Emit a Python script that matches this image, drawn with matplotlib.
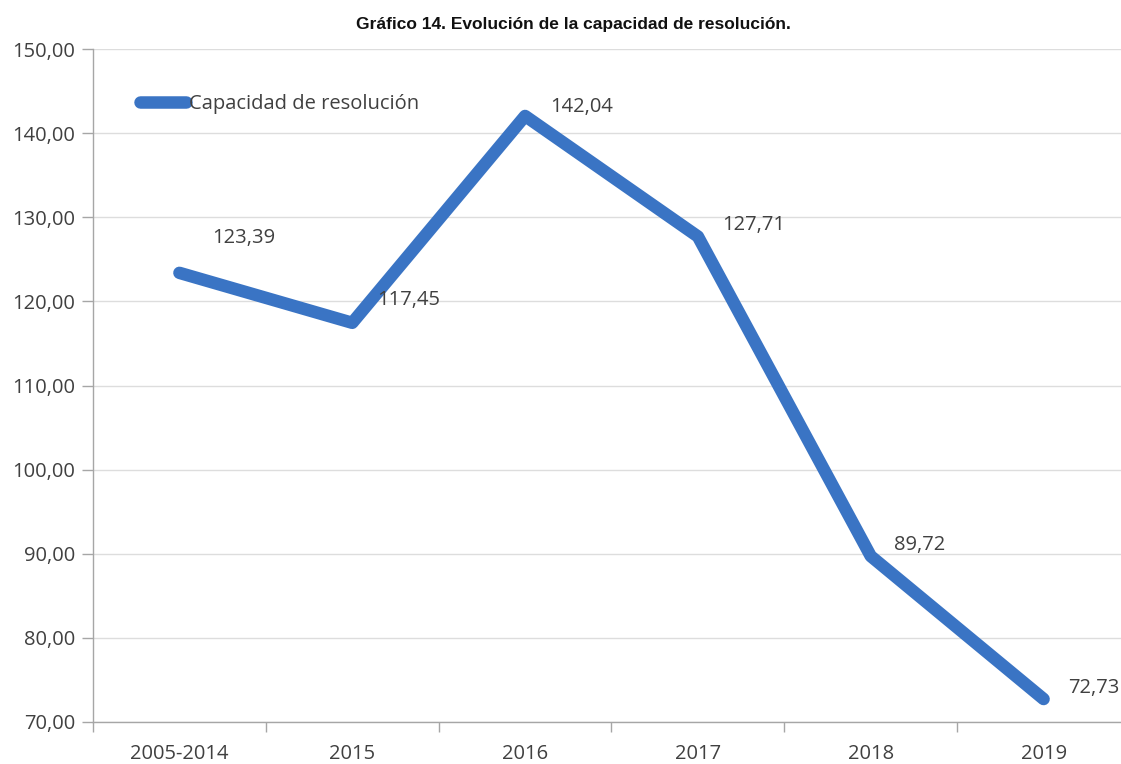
import matplotlib
matplotlib.use("Agg")
import matplotlib.pyplot as plt

categories = ["2005-2014", "2015", "2016", "2017", "2018", "2019"]
values = [123.39, 117.45, 142.04, 127.71, 89.72, 72.73]
labels = ["123,39", "117,45", "142,04", "127,71", "89,72", "72,73"]
yticks = [70, 80, 90, 100, 110, 120, 130, 140, 150]
ytick_labels = ["70,00", "80,00", "90,00", "100,00", "110,00", "120,00", "130,00", "140,00", "150,00"]
series_name = "Capacidad de resolución"
title = "Gráfico 14. Evolución de la capacidad de resolución."

# label offsets in pixels (dx, dy)
label_offsets = [(33, 35), (25, 23), (25, 9), (24, 12), (23, 11), (25, 11)]

W, H = 1121, 764
fig = plt.figure(figsize=(W / 100, H / 100), dpi=100)
left_px, right_px, top_px, bot_px = 93, 1130, 49, 722
ax = fig.add_axes([left_px / W, 1 - bot_px / H, (right_px - left_px) / W, (bot_px - top_px) / H])

color = "#3A74C4"
fs = 14.5
x = list(range(len(categories)))
ax.plot(x, values, color=color, lw=9, solid_capstyle="round", solid_joinstyle="round",
        label=series_name, zorder=3)

ax.set_xlim(-0.5, len(categories) - 0.5)
ax.set_ylim(70, 150)
ax.set_yticks(yticks)
ax.set_yticklabels(ytick_labels)
ax.set_xticks(x)
ax.set_xticklabels(categories)
ax.set_xticks([i - 0.5 for i in range(len(categories) + 1)], minor=True)

font = "Open Sans"
for t in ax.get_yticklabels() + ax.get_xticklabels():
    t.set_fontfamily(font)
    t.set_fontsize(fs)
    t.set_color("#404040")

ax.grid(axis="y", color="#DDDDDD", lw=1.0, zorder=0)
ax.tick_params(axis="y", length=8, width=1, color="#A6A6A6", pad=5)
ax.tick_params(axis="x", which="major", length=0, pad=16)
ax.tick_params(axis="x", which="minor", length=7, width=1, color="#A6A6A6")
for s in ["top", "right"]:
    ax.spines[s].set_visible(False)
ax.spines["left"].set_color("#A6A6A6")
ax.spines["bottom"].set_color("#A6A6A6")
ax.spines["left"].set_linewidth(1.0)
ax.spines["bottom"].set_linewidth(1.0)

for xi, v, lab, (dx, dy) in zip(x, values, labels, label_offsets):
    ax.annotate(lab, (xi, v), xytext=(dx, dy), textcoords="offset pixels",
                ha="left", va="center", fontsize=fs, family=font, color="#404040", zorder=4)

leg = ax.legend(loc="center left",
                bbox_to_anchor=((140 - left_px) / (right_px - left_px), (bot_px - 104) / (bot_px - top_px)),
                frameon=False, prop={"family": font, "size": fs}, handlelength=2.3,
                handletextpad=0.12, borderpad=0, borderaxespad=0)
for t in leg.get_texts():
    t.set_color("#404040")

fig.text(573 / W, 1 - 25 / H, title, ha="center", va="center", fontsize=12.5,
         fontweight="bold", family=["Liberation Sans Narrow", "Liberation Sans", "DejaVu Sans"],
         color="#111111")

fig.savefig("out.png", dpi=100)
